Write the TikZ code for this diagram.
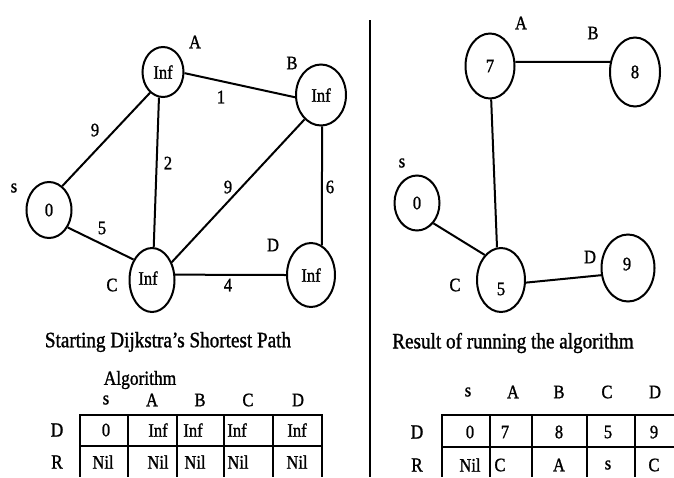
\documentclass[tikz,border=0pt]{standalone}
\usepackage{fontspec}
\setmainfont[FakeStretch=0.87,FakeBold=1.2]{Liberation Serif}
\usetikzlibrary{shapes.geometric}
\newcommand\myfs[1]{\fontsize{#1}{#1}\selectfont}
\begin{document}
\begin{tikzpicture}[x=1pt,y=-1pt,
  vert/.style={ellipse,draw,line width=2pt,inner sep=0pt,font=\myfs{19}},
  edge/.style={line width=2pt},
  txt/.style={inner sep=0pt,font=\myfs{19}},
  ttl/.style={inner sep=0pt,font=\myfs{22}},
  tab/.style={line width=2.4pt}]
\fill[white] (0,0) rectangle (674,477);
\useasboundingbox (0,0) rectangle (674,477);

% ---------- left graph ----------
\node[vert,minimum width=41pt,minimum height=50pt] (lA) at (163,72) {Inf};
\node[vert,minimum width=50pt,minimum height=61pt] (lB) at (321,95) {Inf};
\node[vert,minimum width=45pt,minimum height=56pt] (ls) at (49,210) {0};
\node[vert,minimum width=45pt,minimum height=64pt] (lC) at (152,280) {};
\node[txt] (lCt) at (148,278) {Inf};
\node[vert,minimum width=48pt,minimum height=64pt] (lD) at (311,275) {Inf};

\draw[edge] (ls.61) -- (lA.238);
\draw[edge] (lA.-3) -- (lB.185);
\draw[edge] (lA.261) -- (lC.87);
\draw[edge] (lC.42) -- (lB.236);
\draw[edge] (lB.272) -- (lD.70);
\draw[edge] (ls.-43) -- (lC.132);
\draw[edge] (lC.13) -- (lD.180);

\node[txt] (lAl) at (195,42) {A};
\node[txt] (lBl) at (292,63) {B};
\node[txt] (lsl) at (14,188) {s};
\node[txt] (lCl) at (112,285) {C};
\node[txt] (lDl) at (273,245) {D};

\node[txt] (w1) at (95,130) {9};
\node[txt] (w2) at (221,97) {1};
\node[txt] (w3) at (168,163) {2};
\node[txt] (w4) at (228,187) {9};
\node[txt] (w5) at (330,187) {6};
\node[txt] (w6) at (102,228) {5};
\node[txt] (w7) at (228,285) {4};

% ---------- right graph ----------
\node[vert,minimum width=49pt,minimum height=65pt] (rA) at (490,66) {7};
\node[vert,minimum width=50pt,minimum height=69pt] (rB) at (635,72) {8};
\node[vert,minimum width=45pt,minimum height=55pt] (rs) at (417,203) {0};
\node[vert,minimum width=48pt,minimum height=64pt] (rC) at (501,280) {};
\node[txt] (rCt) at (501,289) {5};
\node[vert,minimum width=53pt,minimum height=67pt] (rD) at (628,268) {};
\node[txt] (rDt) at (627,264) {9};

\draw[edge] (rA.9) -- (rB.158);
\draw[edge] (rA.272) -- (rC.97);
\draw[edge] (rs.-51) -- (rC.123);
\draw[edge] (rC.-6) -- (rD.195);

\node[txt] (rAl) at (521,23) {A};
\node[txt] (rBl) at (593,33) {B};
\node[txt] (rsl) at (402,163) {s};
\node[txt] (rCl) at (455,285) {C};
\node[txt] (rDl) at (590,257) {D};

% ---------- divider ----------
\coordinate (dtop) at (370,20);
\coordinate (dbot) at (370,477);
\draw[line width=2.2pt] (dtop) -- (dbot);

% ---------- left caption and table ----------
\node[ttl] (lt) at (168,342) {Starting Dijkstra's Shortest Path};
\node[inner sep=0pt,font=\myfs{20}] (alg) at (140,380) {Algorithm};
\foreach \x/\t [count=\i] in {106/s,152/A,200/B,248/C,298/D}
  \node[txt] (lh\i) at (\x,400) {\t};
\node[txt,font=\myfs{20}] (lrD) at (57,430) {D};
\node[txt,font=\myfs{20}] (lrR) at (57,462) {R};
\draw[tab] (80,415) -- (323,415);
\draw[tab] (80,446) -- (323,446);
\foreach \x in {80,128,177,224,273,322}
  \draw[tab] (\x,414) -- (\x,477);
\foreach \x/\t [count=\i] in {106/0,158/Inf,193/Inf,237/Inf,297/Inf}
  \node[txt] (ld\i) at (\x,430) {\t};
\foreach \x/\t [count=\i] in {103/Nil,158/Nil,195/Nil,238/Nil,297/Nil}
  \node[txt] (lr\i) at (\x,462) {\t};

% ---------- right caption and table ----------
\node[ttl] (rt) at (513,343) {Result of running the algorithm};
\foreach \x/\t [count=\i] in {468/s,513/A,559/B,607/C,655/D}
  \node[txt] (rh\i) at (\x,392) {\t};
\node[txt,font=\myfs{20}] (rrD) at (417,432) {D};
\node[txt,font=\myfs{20}] (rrR) at (417,465) {R};
\draw[tab] (441,415) -- (674,415);
\draw[tab] (441,447) -- (674,447);
\foreach \x in {442,490,532,587,635}
  \draw[tab] (\x,414) -- (\x,477);
\foreach \x/\t [count=\i] in {470/0,505/7,559/8,608/5,654/9}
  \node[txt] (rd\i) at (\x,432) {\t};
\foreach \x/\t [count=\i] in {470/Nil,500/C,559/A,608/s,654/C}
  \node[txt] (rr\i) at (\x,465) {\t};
\end{tikzpicture}
\end{document}
